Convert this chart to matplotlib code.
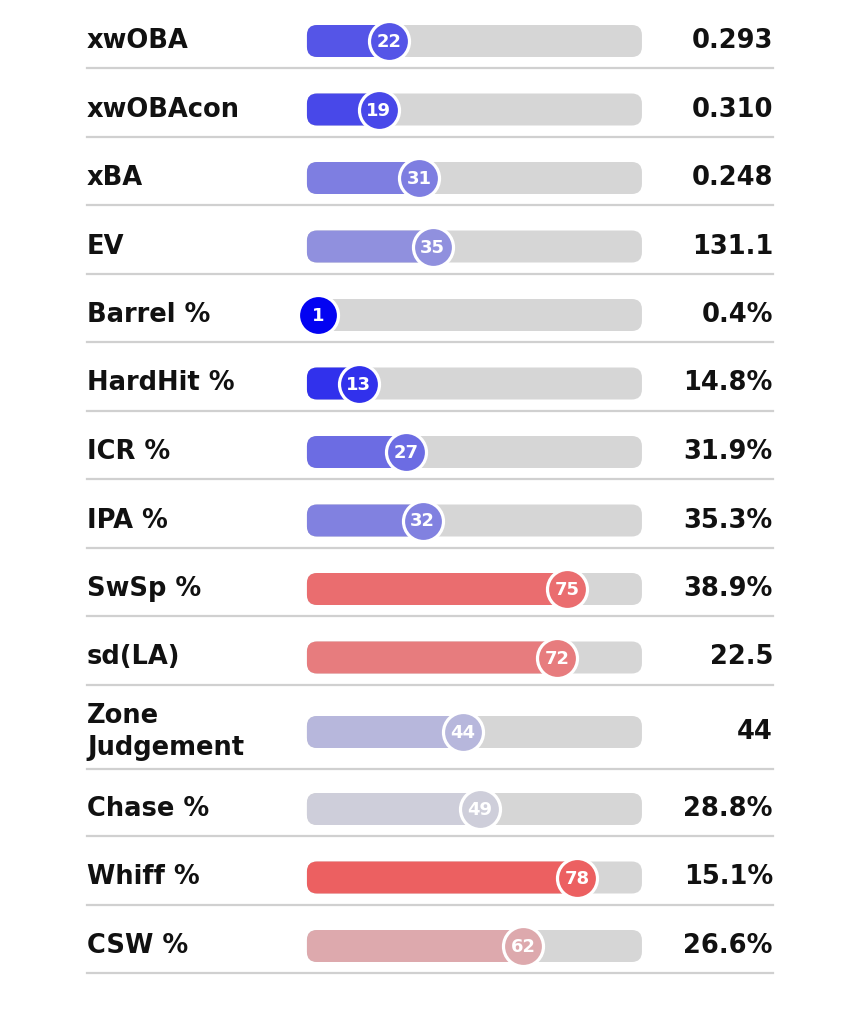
import matplotlib.pyplot as plt
from matplotlib.patches import FancyBboxPatch
from matplotlib.colors import LinearSegmentedColormap

# stat rows, top to bottom
labels = ['xwOBA', 'xwOBAcon', 'xBA', 'EV', 'Barrel %', 'HardHit %', 'ICR %', 'IPA %',
          'SwSp %', 'sd(LA)', 'Zone\nJudgement', 'Chase %', 'Whiff %', 'CSW %']
percentiles = [22, 19, 31, 35, 1, 13, 27, 32, 75, 72, 44, 49, 78, 62]
values = ['0.293', '0.310', '0.248', '131.1', '0.4%', '14.8%', '31.9%', '35.3%',
          '38.9%', '22.5', '44', '28.8%', '15.1%', '26.6%']

W, H = 850, 1019
cmap = LinearSegmentedColormap.from_list('pct', [
    (0.00, '#0000f2'), (0.20, '#4c4ce8'), (0.35, '#9090de'), (0.50, '#d2d2da'),
    (0.65, '#e09ea2'), (0.80, '#ee5757'), (1.00, '#d92a2a')])

fig = plt.figure(figsize=(W / 100, H / 100), dpi=100)
ax = fig.add_axes([0, 0, 1, 1])
ax.set_xlim(0, W)
ax.set_ylim(H, 0)
ax.axis('off')

# bar area: percentile 0 -> 315px, 100 -> 651px
x0_px, x100_px = 315, 651
bx = fig.add_axes([x0_px / W, 0, (x100_px - x0_px) / W, 1])
bx.set_xlim(0, 100)
bx.set_ylim(H, 0)
bx.axis('off')
px_per_unit = (x100_px - x0_px) / 100

track_lo, track_hi = -2.4, 97.3
bar_h = 32
font = 'DejaVu Sans'

y = 41
centers = []
for i, lab in enumerate(labels):
    tall = '\n' in lab
    if tall:
        y += 6
    centers.append(y)
    sep = y + (37 if tall else 27)
    ax.plot([87, 773], [sep, sep], color='#d0d0d0', lw=1.6, zorder=1)
    y += (77 if tall else 68.5)

for lab, p, v, cy in zip(labels, percentiles, values, centers):
    col = cmap(p / 100)
    ax.text(87, cy, lab, ha='left', va='center', fontsize=18.5, fontweight='bold',
            family=font, color='#111111', linespacing=1.3)
    ax.text(773, cy, v, ha='right', va='center', fontsize=18.5, fontweight='bold',
            family=font, color='#111111')
    track = FancyBboxPatch((track_lo, cy - bar_h / 2), track_hi - track_lo, bar_h,
                           boxstyle='round,pad=0,rounding_size=3',
                           mutation_aspect=px_per_unit, fc='#d6d6d6', ec='none',
                           zorder=2, clip_on=False)
    bx.add_patch(track)
    fill = FancyBboxPatch((track_lo, cy - bar_h / 2), p - track_lo, bar_h,
                          boxstyle='round,pad=0,rounding_size=3',
                          mutation_aspect=px_per_unit, fc=col, ec='none',
                          zorder=3, clip_on=False)
    bx.add_patch(fill)
    bx.scatter([p], [cy], s=830, color=col, edgecolors='white', linewidths=2.3,
               zorder=4, clip_on=False)
    bx.text(p, cy + 1, str(p), ha='center', va='center', fontsize=13,
            fontweight='bold', family=font, color='white', zorder=5)

fig.savefig('out.png', dpi=100, facecolor='white')
